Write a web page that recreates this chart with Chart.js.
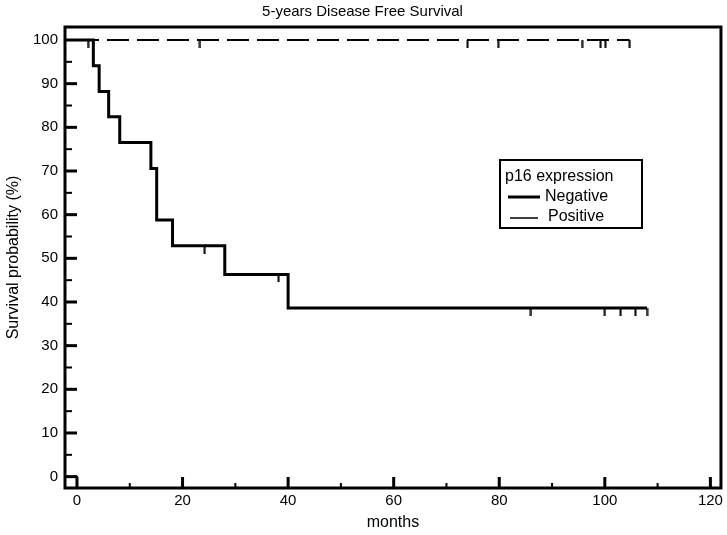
<!DOCTYPE html>
<html>
<head>
<meta charset="utf-8">
<script src="https://cdn.jsdelivr.net/npm/chart.js@4"></script>
<style>
  html, body { margin: 0; padding: 0; background: #fff; }
  #wrap { width: 727px; height: 535px; }
</style>
</head>
<body>
<div id="wrap"><canvas id="kmChart"></canvas></div>
<script>
// ---- data (months / survival %) ----
const negTimes = [0, 3.1, 4.2, 6.0, 8.1, 14.0, 15.1, 18.1, 28.0, 40.0, 108];
const negSurv  = [100, 94.1, 88.2, 82.4, 76.5, 70.6, 58.8, 52.9, 46.3, 38.6, 38.6];
const negCensorTimes = [24.2, 38.2, 86, 100, 103, 105.8, 108];
const negCensorSurv  = [52.9, 46.3, 38.6, 38.6, 38.6, 38.6, 38.6];

const posTimes = [0, 104.7];
const posSurv  = [100, 100];
const posCensorTimes = [2.1, 23.3, 74, 79.8, 95.7, 99.2, 100.1, 104.7];
const posCensorSurv  = [100, 100, 100, 100, 100, 100, 100, 100];

// little box drawn at the origin in the original plot
const originTimes = [-5, 0, 0];
const originSurv  = [0, 0, -5];

const xTicks = [0, 20, 40, 60, 80, 100, 120];
const xMinor = [10, 30, 50, 70, 90, 110];
const yTicks = [0, 10, 20, 30, 40, 50, 60, 70, 80, 90, 100];
const yMinor = [5, 15, 25, 35, 45, 55, 65, 75, 85, 95];

const legendTitle = 'p16 expression';
const groupNames = ['Negative', 'Positive'];

const FONT = "'Liberation Sans', Arial, sans-serif";

const toXY = (xs, ys) => xs.map((x, i) => ({ x: x, y: ys[i] }));

// censor mark: short vertical tick hanging below the curve
function censorMark(w) {
  const c = document.createElement('canvas');
  c.width = 3; c.height = 16;
  const g = c.getContext('2d');
  g.fillStyle = '#000';
  g.fillRect((3 - w) / 2, 8, w, 8);
  return c;
}

// frame + inward ticks + legend box, drawn on top
const framePlugin = {
  id: 'frame',
  afterDatasetsDraw(chart) {
    const { ctx, chartArea: a, scales: { x, y } } = chart;
    ctx.save();
    ctx.strokeStyle = '#000';
    ctx.lineCap = 'butt';

    ctx.lineWidth = 3;
    ctx.strokeRect(a.left, a.top, a.right - a.left, a.bottom - a.top);

    const tick = (vals, len, lw) => {
      ctx.lineWidth = lw;
      vals.forEach(v => {
        const py = y.getPixelForValue(v);
        ctx.beginPath(); ctx.moveTo(a.left, py); ctx.lineTo(a.left + len, py); ctx.stroke();
      });
    };
    tick(yTicks, 12, 3);
    tick(yMinor, 7, 2);

    const xtick = (vals, len, lw) => {
      ctx.lineWidth = lw;
      vals.forEach(v => {
        const px = x.getPixelForValue(v);
        ctx.beginPath(); ctx.moveTo(px, a.bottom); ctx.lineTo(px, a.bottom - len); ctx.stroke();
      });
    };
    xtick(xTicks, 11, 3);
    xtick(xMinor, 5, 2);

    // legend
    const lx = 500, ly = 160, lw = 142, lh = 68;
    ctx.lineWidth = 2;
    ctx.strokeRect(lx, ly, lw, lh);
    ctx.fillStyle = '#000';
    ctx.font = '16px ' + FONT;
    ctx.textBaseline = 'middle';
    ctx.textAlign = 'left';
    ctx.fillText(legendTitle, lx + 5, ly + 17);
    ctx.lineWidth = 3;
    ctx.beginPath(); ctx.moveTo(lx + 8, ly + 37); ctx.lineTo(lx + 40, ly + 37); ctx.stroke();
    ctx.fillText(groupNames[0], lx + 45, ly + 37);
    ctx.lineWidth = 1.5;
    ctx.beginPath(); ctx.moveTo(lx + 10, ly + 58); ctx.lineTo(lx + 38, ly + 58); ctx.stroke();
    ctx.fillText(groupNames[1], lx + 48, ly + 57);
    ctx.restore();
  }
};

const ctx = document.getElementById('kmChart').getContext('2d');

new Chart(ctx, {
  type: 'scatter',
  data: {
    datasets: [
      {
        label: groupNames[0],
        type: 'line',
        data: toXY(negTimes, negSurv),
        stepped: 'before',
        borderColor: '#000',
        borderWidth: 3,
        pointRadius: 0,
        fill: false
      },
      {
        label: groupNames[1],
        type: 'line',
        data: toXY(posTimes, posSurv),
        borderColor: '#000',
        borderWidth: 2,
        borderDash: [22, 8],
        pointRadius: 0,
        fill: false
      },
      {
        label: 'neg censored',
        data: toXY(negCensorTimes, negCensorSurv),
        pointStyle: censorMark(2),
        pointRadius: 5
      },
      {
        label: 'pos censored',
        data: toXY(posCensorTimes, posCensorSurv),
        pointStyle: censorMark(2),
        pointRadius: 5
      },
      {
        label: 'origin',
        type: 'line',
        data: toXY(originTimes, originSurv),
        borderColor: '#000',
        borderWidth: 2,
        pointRadius: 0,
        fill: false
      }
    ]
  },
  options: {
    responsive: true,
    maintainAspectRatio: false,
    animation: false,
    layout: { padding: { left: 0, right: 2, top: 0, bottom: 0 } },
    plugins: {
      legend: { display: false },
      tooltip: { enabled: false },
      title: {
        display: true,
        text: '5-years Disease Free Survival',
        color: '#000',
        font: { family: FONT, size: 15, weight: 'normal' },
        padding: { top: 3, bottom: 6 }
      }
    },
    scales: {
      x: {
        type: 'linear',
        min: -2.27,
        max: 122,
        afterBuildTicks: s => { s.ticks = xTicks.map(v => ({ value: v })); },
        afterFit: s => { s.height = 47; },
        grid: { display: false, drawTicks: false },
        border: { display: false },
        ticks: { color: '#000', padding: 4, font: { family: FONT, size: 15 } },
        title: {
          display: true,
          text: 'months',
          color: '#000',
          font: { family: FONT, size: 16 },
          padding: { top: 0, bottom: 2.4 }
        }
      },
      y: {
        type: 'linear',
        min: -2.6,
        max: 102.98,
        afterBuildTicks: s => { s.ticks = yTicks.map(v => ({ value: v })); },
        afterFit: s => { s.width = 65; },
        grid: { display: false, drawTicks: false },
        border: { display: false },
        ticks: { color: '#000', padding: 7, font: { family: FONT, size: 15 } },
        title: {
          display: true,
          text: 'Survival probability (%)',
          color: '#000',
          font: { family: FONT, size: 16 },
          padding: { top: 4, bottom: 0 }
        }
      }
    }
  },
  plugins: [framePlugin]
});
</script>
</body>
</html>
